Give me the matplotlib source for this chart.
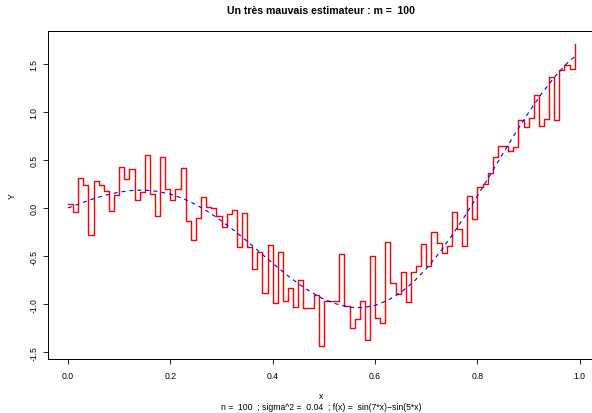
import numpy as np
import matplotlib
matplotlib.use("Agg")
import matplotlib.pyplot as plt

# Estimateur constant par morceaux, m = 100 (une observation par classe)
n = 100
sigma2 = 0.04
m = 100

# bord gauche de chaque classe
x_obs = [i / 100.0 for i in range(100)]

y_est = [0.04, -0.04, 0.31, 0.24, -0.28, 0.28, 0.24, 0.18, -0.03, 0.13,
         0.43, 0.30, 0.41, 0.08, 0.17, 0.55, 0.15, -0.08, 0.53, 0.20,
         0.08, 0.20, 0.42, -0.135, -0.33, -0.10, 0.11, 0.01, 0.00, -0.08,
         -0.20, -0.06, -0.02, -0.41, -0.055, -0.41, -0.63, -0.46, -0.88, -0.38,
         -0.99, -0.46, -0.97, -0.83, -1.03, -0.75, -1.04, -1.04, -0.90, -1.44,
         -0.97, -0.97, -0.97, -0.48, -1.02, -1.25, -1.15, -0.97, -1.37, -0.50,
         -1.14, -1.20, -0.35, -0.78, -0.89, -0.67, -0.98, -0.67, -0.60, -0.37,
         -0.60, -0.25, -0.36, -0.47, -0.40, -0.045, -0.22, -0.40, 0.12, -0.11,
         0.22, 0.25, 0.36, 0.53, 0.64, 0.64, 0.59, 0.63, 0.915, 0.84,
         0.94, 1.175, 0.85, 0.92, 1.365, 0.91, 1.435, 1.49, 1.45, 1.71]

# courbe bleue (vraie fonction), points lus
x_f = [0.0, 0.025, 0.05, 0.075, 0.1, 0.125, 0.15, 0.175, 0.2, 0.225,
       0.25, 0.275, 0.3, 0.325, 0.35, 0.375, 0.4, 0.425, 0.45, 0.475,
       0.5, 0.525, 0.55, 0.575, 0.6, 0.625, 0.65, 0.675, 0.7, 0.725,
       0.75, 0.775, 0.8, 0.825, 0.85, 0.875, 0.9, 0.925, 0.95, 0.975, 0.99]
y_f = [0.0, 0.049, 0.096, 0.135, 0.165, 0.182, 0.186, 0.173, 0.144, 0.098,
       0.035, -0.043, -0.134, -0.236, -0.346, -0.461, -0.574, -0.685, -0.787, -0.876,
       -0.949, -0.999, -1.032, -1.036, -1.013, -0.960, -0.879, -0.769, -0.632, -0.470,
       -0.287, -0.087, 0.126, 0.346, 0.569, 0.786, 0.994, 1.187, 1.358, 1.506, 1.574]

xticks = [0.0, 0.2, 0.4, 0.6, 0.8, 1.0]
yticks = [-1.5, -1.0, -0.5, 0.0, 0.5, 1.0, 1.5]

plt.rcParams['font.family'] = ['Liberation Sans', 'DejaVu Sans']

W, H = 592, 414
fig = plt.figure(figsize=(W / 100.0, H / 100.0), dpi=100)
# zone du graphe en pixels
left, right, top, bottom = 47.7, 595.0, 32.4, 359.6
ax = fig.add_axes([left / W, 1 - bottom / H, (right - left) / W, (bottom - top) / H])

ax.step(x_obs, y_est, where='post', color='red', lw=1.0)
ax.plot(x_f, y_f, color='blue', lw=0.8, dashes=(3.6, 3.6))

ax.margins(x=0.04, y=0.04)
ax.set_xticks(xticks)
ax.set_xticklabels(['%.1f' % v for v in xticks])
ax.set_yticks(yticks)
ax.set_yticklabels(['%.1f' % v for v in yticks], rotation=90, va='center')
ax.tick_params(labelsize=6.2, length=3.6, width=0.6, pad=5.5, colors='black')
ax.tick_params(axis='y', pad=3.0)
for s in ax.spines.values():
    s.set_linewidth(0.7)

fig.text(0.5 * (left + 595) / W, 1 - 10.5 / H, 'Un très mauvais estimateur : m =  %d' % m,
         ha='center', va='center', fontsize=7.6, fontweight='bold')
fig.text(0.5 * (left + 595) / W, 1 - 397 / H, 'x', ha='center', va='center', fontsize=6.2)
fig.text(0.5 * (left + 595) / W, 1 - 408 / H,
         'n =  %d  ; sigma^2 =  %.2f  ; f(x) =  sin(7*x)\u2212sin(5*x)' % (n, sigma2),
         ha='center', va='center', fontsize=6.2)
fig.text(12 / W, 1 - 196 / H, 'Y', ha='center', va='center', rotation=90, fontsize=6.2)

fig.savefig('out.png', dpi=100)
